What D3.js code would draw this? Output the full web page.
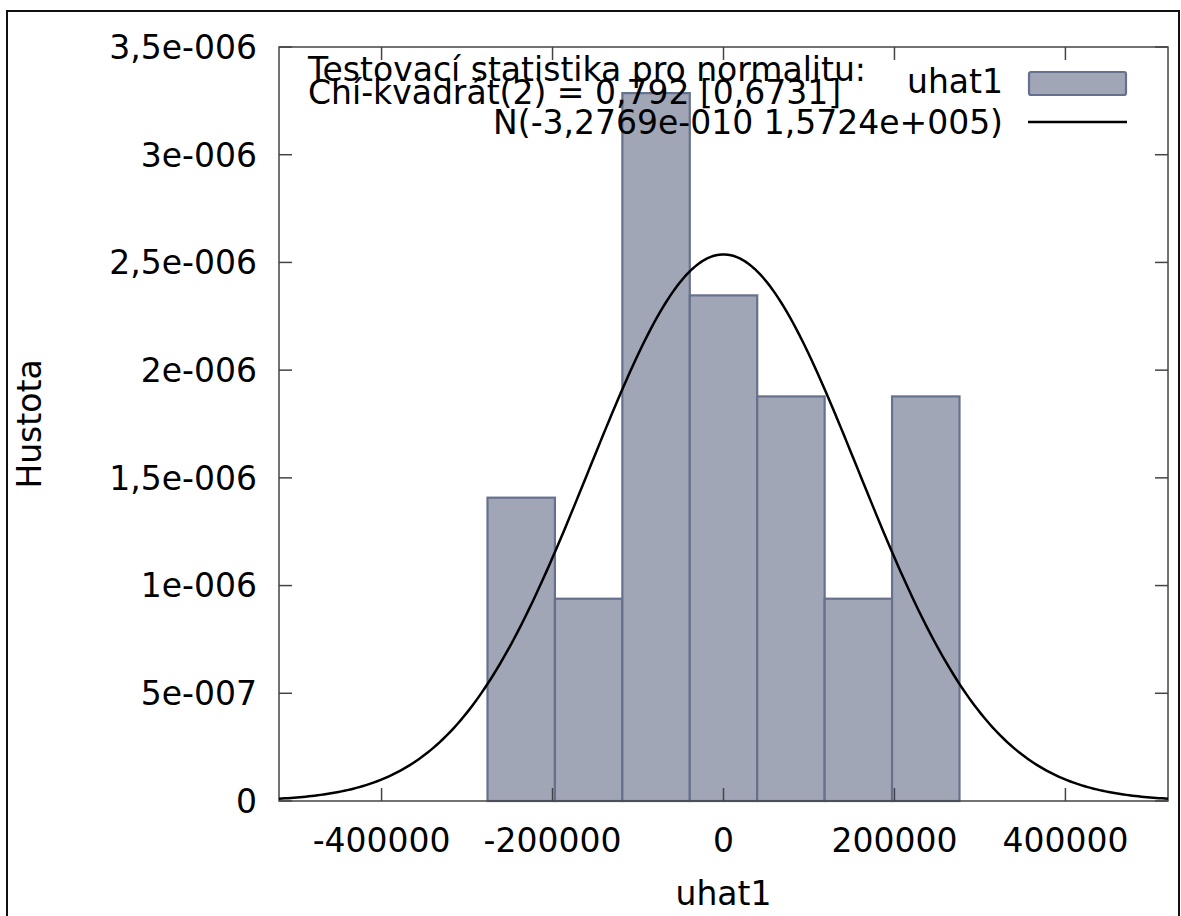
<!DOCTYPE html>
<html>
<head>
<meta charset="utf-8">
<script src="https://cdn.jsdelivr.net/npm/d3@7"></script>
<style>
  body { margin: 0; background: #fff; }
  text { font-family: "DejaVu Sans", Verdana, sans-serif; fill: #000; }
</style>
</head>
<body>
<script>
// Histogram of residuals (uhat1) with normal density overlay

// bin centres and density values
var binCenters = [-236640, -157760, -78880, 0, 78880, 157760, 236640];
var binWidth = 78880;
var densities = [1.408e-6, 9.39e-7, 3.286e-6, 2.347e-6, 1.878e-6, 9.39e-7, 1.878e-6];

// normal curve parameters shown in the legend
var normMean = -3.2769e-10;
var normSd = 1.5724e5;

// tick values and labels
var xTicks = [-400000, -200000, 0, 200000, 400000];
var xTickLabels = ["-400000", "-200000", "0", "200000", "400000"];
var yTicks = [0, 5e-7, 1e-6, 1.5e-6, 2e-6, 2.5e-6, 3e-6, 3.5e-6];
var yTickLabels = ["0", "5e-007", "1e-006", "1,5e-006", "2e-006", "2,5e-006", "3e-006", "3,5e-006"];

var svgWidth = 1181;
var svgHeight = 916;

var plot = { left: 279, right: 1168, top: 47, bottom: 801 };

var svg = d3.select("body")
  .append("svg")
  .attr("width", svgWidth)
  .attr("height", svgHeight);

// outer frame round the whole picture
svg.append("rect")
  .attr("x", 7)
  .attr("y", 11)
  .attr("width", 1172)
  .attr("height", 920)
  .attr("fill", "none")
  .attr("stroke", "#111")
  .attr("stroke-width", 2);

var x = d3.scaleLinear()
  .domain([-520000, 520000])
  .range([plot.left, plot.right]);

var y = d3.scaleLinear()
  .domain([0, 3.5e-6])
  .range([plot.bottom, plot.top]);

var fontSize = 33;

// bars
svg.append("g")
  .selectAll("rect")
  .data(binCenters)
  .join("rect")
    .attr("x", (d, i) => x(d - binWidth / 2))
    .attr("y", (d, i) => y(densities[i]))
    .attr("width", d => x(d + binWidth / 2) - x(d - binWidth / 2))
    .attr("height", (d, i) => y(0) - y(densities[i]))
    .attr("fill", "#a0a6b6")
    .attr("stroke", "#66718d")
    .attr("stroke-width", 2.2);

// normal density curve
var pdf = v => Math.exp(-0.5 * Math.pow((v - normMean) / normSd, 2)) / (normSd * Math.sqrt(2 * Math.PI));
var curveXs = d3.range(300).map(i => x.domain()[0] + i * (x.domain()[1] - x.domain()[0]) / 299);

var drawLine = d3.line()
  .x(d => x(d))
  .y(d => y(pdf(d)));

// frame with mirrored ticks
var frame = svg.append("g")
  .attr("stroke", "#444")
  .attr("stroke-width", 1.5)
  .attr("fill", "none");

frame.append("rect")
  .attr("x", plot.left)
  .attr("y", plot.top)
  .attr("width", plot.right - plot.left)
  .attr("height", plot.bottom - plot.top);

var tickLen = 13;
xTicks.forEach(function(t) {
  frame.append("line")
    .attr("x1", x(t)).attr("x2", x(t))
    .attr("y1", plot.bottom).attr("y2", plot.bottom - tickLen);
  frame.append("line")
    .attr("x1", x(t)).attr("x2", x(t))
    .attr("y1", plot.top).attr("y2", plot.top + tickLen);
});
yTicks.forEach(function(t) {
  frame.append("line")
    .attr("x1", plot.left).attr("x2", plot.left + tickLen)
    .attr("y1", y(t)).attr("y2", y(t));
  frame.append("line")
    .attr("x1", plot.right).attr("x2", plot.right - tickLen)
    .attr("y1", y(t)).attr("y2", y(t));
});

svg.append("path")
  .attr("d", drawLine(curveXs))
  .attr("stroke", "#000")
  .attr("stroke-width", 2.5)
  .attr("fill", "none");

// tick labels
svg.append("g")
  .selectAll("text")
  .data(xTicks)
  .join("text")
    .attr("x", d => x(d))
    .attr("y", 852)
    .attr("text-anchor", "middle")
    .style("font-size", fontSize + "px")
    .text((d, i) => xTickLabels[i]);

svg.append("g")
  .selectAll("text")
  .data(yTicks)
  .join("text")
    .attr("x", 257)
    .attr("y", d => y(d))
    .attr("dy", "0.36em")
    .attr("text-anchor", "end")
    .style("font-size", fontSize + "px")
    .text((d, i) => yTickLabels[i]);

// axis titles
svg.append("text")
  .attr("x", x(0))
  .attr("y", 905)
  .attr("text-anchor", "middle")
  .style("font-size", fontSize + "px")
  .text("uhat1");

svg.append("text")
  .attr("transform", "translate(41, 424) rotate(-90)")
  .attr("text-anchor", "middle")
  .style("font-size", fontSize + "px")
  .text("Hustota");

// test statistic note
svg.append("text")
  .attr("x", 308)
  .attr("y", 81)
  .style("font-size", fontSize + "px")
  .text("Testovací statistika pro normalitu:");

svg.append("text")
  .attr("x", 308)
  .attr("y", 104)
  .style("font-size", fontSize + "px")
  .text("Chí-kvadrát(2) = 0,792 [0,6731]");

// legend
var legend = svg.append("g");
legend.append("text")
  .attr("x", 1003)
  .attr("y", 93)
  .attr("text-anchor", "end")
  .style("font-size", fontSize + "px")
  .text("uhat1");
legend.append("rect")
  .attr("x", 1029)
  .attr("y", 72)
  .attr("width", 97)
  .attr("height", 23)
  .attr("rx", 2)
  .attr("fill", "#a0a6b6")
  .attr("stroke", "#66718d")
  .attr("stroke-width", 2.2);

legend.append("text")
  .attr("x", 1003)
  .attr("y", 134)
  .attr("text-anchor", "end")
  .style("font-size", fontSize + "px")
  .text("N(-3,2769e-010 1,5724e+005)");
legend.append("line")
  .attr("x1", 1028)
  .attr("x2", 1127)
  .attr("y1", 122)
  .attr("y2", 122)
  .attr("stroke", "#000")
  .attr("stroke-width", 2.5);
</script>
</body>
</html>
